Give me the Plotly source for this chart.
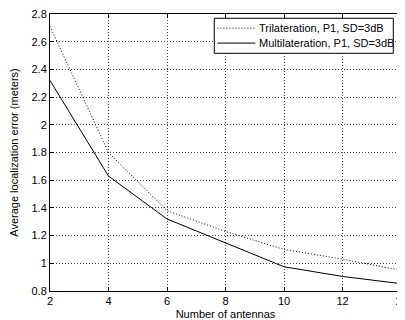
import plotly.graph_objects as go

antennas = [2, 4, 6, 8, 10, 12, 14]
trilateration = [2.71, 1.80, 1.38, 1.23, 1.10, 1.03, 0.95]
multilateration = [2.32, 1.63, 1.32, 1.15, 0.975, 0.905, 0.853]
series_names = ["Trilateration, P1, SD=3dB", "Multilateration, P1, SD=3dB"]

x_ticks = [2, 4, 6, 8, 10, 12, 14]
y_ticks = [0.8, 1, 1.2, 1.4, 1.6, 1.8, 2, 2.2, 2.4, 2.6, 2.8]
y_tick_text = ["0.8", "1", "1.2", "1.4", "1.6", "1.8", "2", "2.2", "2.4", "2.6", "2.8"]

font = dict(family="Liberation Sans, Arial, sans-serif", size=11, color="#000")
dot = "1px,2px"

fig = go.Figure()
fig.add_trace(go.Scatter(x=antennas, y=trilateration, mode="lines",
                         name=series_names[0], showlegend=False,
                         line=dict(color="#000", width=1, dash=dot)))
fig.add_trace(go.Scatter(x=antennas, y=multilateration, mode="lines",
                         name=series_names[1], showlegend=False,
                         line=dict(color="#000", width=1)))

axis_common = dict(showline=True, linecolor="#000", linewidth=1, mirror="ticks",
                   ticks="inside", ticklen=4, tickcolor="#000",
                   showgrid=True, gridcolor="#444", griddash=dot, gridwidth=1,
                   zeroline=False, tickfont=font, automargin=False,
                   ticklabeloverflow="allow")

fig.update_xaxes(range=[2, 14], tickvals=x_ticks,
                 title=dict(text="Number of antennas", font=font, standoff=4),
                 **axis_common)
fig.update_yaxes(range=[0.8, 2.8], tickvals=y_ticks, ticktext=y_tick_text,
                 title=dict(text="Average localization error (meters)", font=font, standoff=10),
                 **axis_common)

# custom legend (box, sample lines, labels) in plot-area paper coordinates
lx0, lx1, ly0, ly1 = 0.468, 0.978, 0.858, 0.9845
row_y = [0.949, 0.895]
dashes = [dot, "solid"]
fig.add_shape(type="rect", xref="paper", yref="paper", x0=lx0, x1=lx1, y0=ly0, y1=ly1,
              line=dict(color="#000", width=1), fillcolor="#fff", layer="above")
for name, ry, ds in zip(series_names, row_y, dashes):
    fig.add_shape(type="line", xref="paper", yref="paper", x0=0.477, x1=0.585, y0=ry, y1=ry,
                  line=dict(color="#000", width=1, dash=ds), layer="above")
    fig.add_annotation(xref="paper", yref="paper", x=0.589, y=ry, text=name,
                       showarrow=False, xanchor="left", yanchor="middle", font=font)

# page body has an 8px margin; size the figure so the plot lands where the reference has it
fig.update_layout(
    width=397, height=312,
    margin=dict(l=42, r=4, t=6, b=29),
    paper_bgcolor="#fff", plot_bgcolor="#fff",
    font=font,
    showlegend=False,
)

fig.write_html("out.html")
